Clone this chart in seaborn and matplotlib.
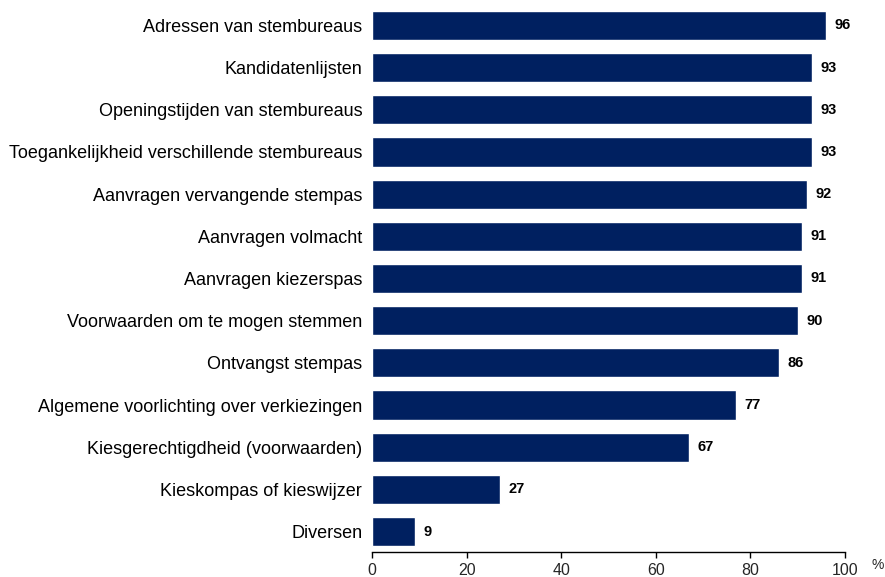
import matplotlib
matplotlib.use("Agg")
import matplotlib.pyplot as plt
import pandas as pd
import seaborn as sns

categories = [
    "Adressen van stembureaus",
    "Kandidatenlijsten",
    "Openingstijden van stembureaus",
    "Toegankelijkheid verschillende stembureaus",
    "Aanvragen vervangende stempas",
    "Aanvragen volmacht",
    "Aanvragen kiezerspas",
    "Voorwaarden om te mogen stemmen",
    "Ontvangst stempas",
    "Algemene voorlichting over verkiezingen",
    "Kiesgerechtigdheid (voorwaarden)",
    "Kieskompas of kieswijzer",
    "Diversen",
]
values = [96, 93, 93, 93, 92, 91, 91, 90, 86, 77, 67, 27, 9]
xticks = [0, 20, 40, 60, 80, 100]

df = pd.DataFrame({"categorie": categories, "pct": values})

sns.set_style("white")
plt.rcParams["font.family"] = ["Liberation Sans", "DejaVu Sans"]

fig = plt.figure(figsize=(8.85, 5.77), dpi=100)
ax = fig.add_axes([0.4203, 0.0433, 0.5345, 0.9491])

sns.barplot(data=df, x="pct", y="categorie", color="#002060", width=0.69,
            saturation=1, ax=ax, orient="h")

for i, v in enumerate(values):
    ax.text(v + 1.8, i, str(v), va="center", ha="left", fontsize=10.5,
            fontweight="bold", color="black")

ax.set_xlim(0, 100)
ax.set_ylim(12.486, -0.5)
ax.set_xticks(xticks)
ax.set_xticklabels([str(t) for t in xticks], fontsize=11.5)
ax.tick_params(axis="x", bottom=True, direction="out", length=4, width=1,
               color="black", pad=4)
ax.tick_params(axis="y", length=0, labelsize=13, pad=7, labelcolor="black")
ax.set_xlabel("")
ax.set_ylabel("")
for s in ["top", "right", "left"]:
    ax.spines[s].set_visible(False)
ax.spines["bottom"].set_color("black")
ax.spines["bottom"].set_linewidth(1)
ax.annotate("%", xy=(1.0, 0), xycoords="axes fraction", xytext=(33, -13),
            textcoords="offset pixels", fontsize=10, ha="center", va="center")

fig.savefig("out.png", dpi=100)
